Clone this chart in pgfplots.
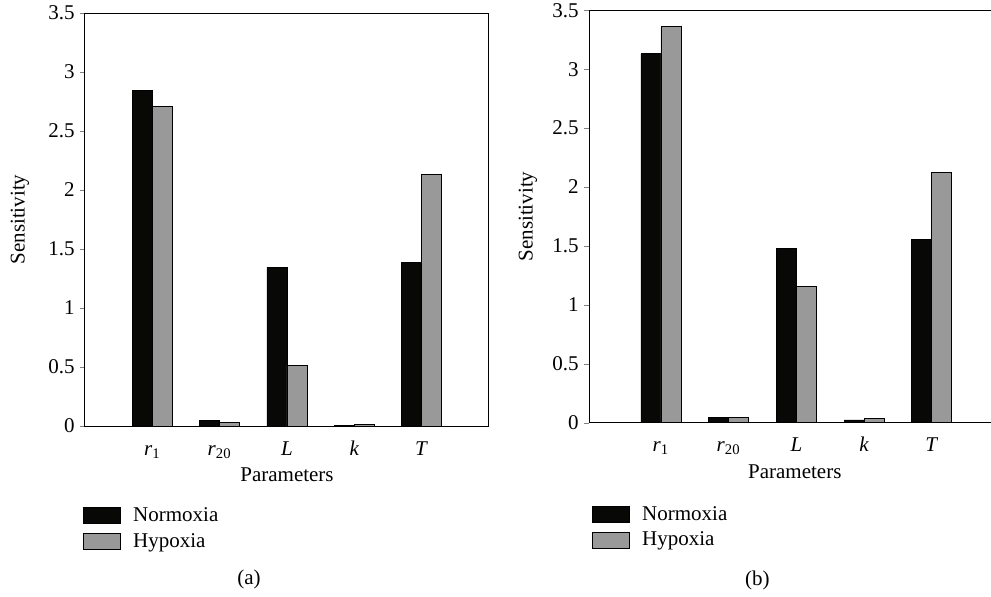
\documentclass[border=0pt]{standalone}
\usepackage{fontspec}
\setmainfont{Liberation Serif}
\usepackage{pgfplots}
\pgfplotsset{compat=1.18}
\definecolor{barblack}{RGB}{8,8,6}
\definecolor{bargray}{RGB}{153,153,153}
\begin{document}
\begin{tikzpicture}[font=\fontsize{10.5}{12.5}\selectfont]
\pgfplotsset{
  sens/.style={
    ybar=0pt, bar width=10pt, scale only axis, clip=false,
    ymin=0, ymax=3.5, ytick={0,0.5,1,1.5,2,2.5,3,3.5},
    xtick={1,2,3,4,5},
    xticklabels={\textit{r}\textsubscript{1}, \textit{r}\textsubscript{20}, \textit{L}, \textit{k}, \textit{T}},
    /pgf/number format/assume math mode=true,
    tick align=outside, major tick length=2.5pt,
    xtick style={draw=none},
    ytick pos=left,
    yticklabel style={inner sep=2.5pt},
    xticklabel style={anchor=base, yshift=-12pt},
    axis line style={line width=0.5pt},
    ylabel={Sensitivity}, xlabel={Parameters},
    legend style={draw=none, fill=none, inner sep=0pt, row sep=1.5pt,
      nodes={inner sep=1.5pt, anchor=west},
      /tikz/every odd column/.append style={column sep=4.5pt}},
    legend cell align=left,
    legend image code/.code={\draw[##1,/tikz/.cd] (0pt,-4pt) rectangle (18.5pt,4pt);},
  },
  nbar/.style={fill=barblack, draw=black, line width=0.4pt},
  hbar/.style={fill=bargray, draw=black, line width=0.4pt},
}
\path[use as bounding box] (-42.5pt,-85pt) rectangle (453pt,213pt);
% ---------- (a) ----------
\begin{axis}[sens, at={(0pt,0pt)}, anchor=south west,
  width=202pt, height=206.5pt, xmin=0, xmax=6,
  ylabel style={at={(axis description cs:-0.161,0.5)}, anchor=center},
  xlabel style={at={(axis description cs:0.5,0)}, anchor=center, yshift=-24.5pt},
  legend style={at={(axis description cs:0,0)}, anchor=north west, xshift=-1pt, yshift=-39pt},
]
\addplot[nbar] coordinates {(1,2.84) (2,0.045) (3,1.345) (4,0.005) (5,1.384)};
\addplot[hbar] coordinates {(1,2.71) (2,0.03) (3,0.514) (4,0.015) (5,2.13)};
\legend{Normoxia, Hypoxia}
\node at (axis description cs:0.406,0) [yshift=-76.5pt] {(a)};
\end{axis}
% ---------- (b) ----------
\begin{axis}[sens, at={(252pt,1.65pt)}, anchor=south west,
  width=201pt, height=206.2pt, xmin=-0.063, xmax=5.874,
  axis x line*=box, axis y line*=left,
  x axis line style={-}, y axis line style={-},
  ylabel style={at={(axis description cs:-0.152,0.5)}, anchor=center},
  xlabel style={at={(axis description cs:0.512,0)}, anchor=center, yshift=-24.5pt},
  legend style={at={(axis description cs:0,0)}, anchor=north west, xshift=1.5pt, yshift=-40pt},
]
\addplot[nbar] coordinates {(1,3.13) (2,0.048) (3,1.477) (4,0.023) (5,1.556)};
\addplot[hbar] coordinates {(1,3.36) (2,0.048) (3,1.158) (4,0.037) (5,2.125)};
\legend{Normoxia, Hypoxia}
\node at (axis description cs:0.419,0) [yshift=-79pt] {(b)};
\end{axis}
\end{tikzpicture}
\end{document}
